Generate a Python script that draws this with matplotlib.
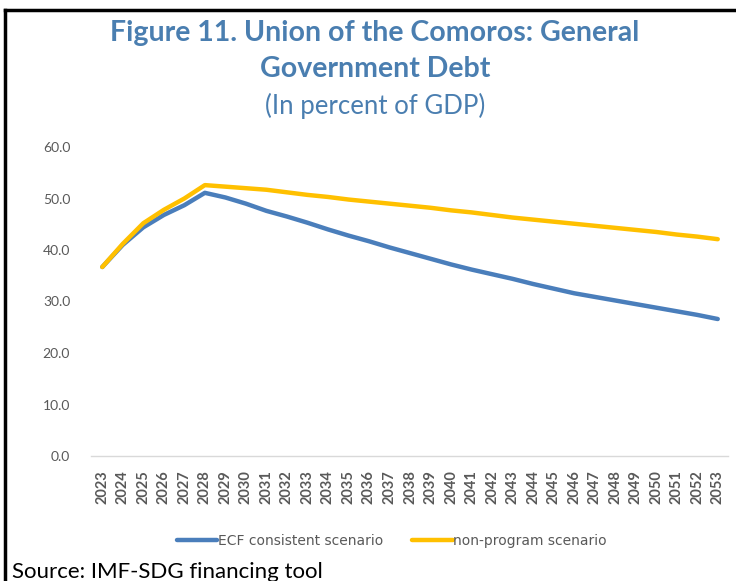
import matplotlib
matplotlib.use("Agg")
import matplotlib.pyplot as plt
from matplotlib.lines import Line2D

years = list(range(2023, 2054))
ecf = [36.7, 41.0, 44.4, 46.8, 48.7, 51.1, 50.2, 49.0, 47.6, 46.5,
       45.3, 44.0, 42.8, 41.7, 40.5, 39.4, 38.3, 37.2, 36.2, 35.3,
       34.4, 33.4, 32.5, 31.6, 30.9, 30.2, 29.5, 28.8, 28.1, 27.4, 26.6]
nonprog = [36.7, 41.2, 45.2, 47.8, 50.0, 52.6, 52.3, 52.0, 51.7, 51.2,
           50.7, 50.3, 49.8, 49.4, 49.0, 48.6, 48.2, 47.7, 47.3, 46.8,
           46.3, 45.9, 45.5, 45.1, 44.7, 44.3, 43.9, 43.5, 43.0, 42.6, 42.1]
yticks = [0, 10, 20, 30, 40, 50, 60]
series_names = ["ECF consistent scenario", "non-program scenario"]

blue = "#4A7EBB"
gold = "#FFC000"
title_col = "#4A7EB0"
grey = "#595959"

W, H = 736, 581
fig = plt.figure(figsize=(W / 100, H / 100), dpi=100)

# frame lines (top and left) like the cropped report box
fig.add_artist(Line2D([5 / W, 1], [1 - 10 / H, 1 - 10 / H], color="black", lw=2.5))
fig.add_artist(Line2D([5 / W, 5 / W], [0, 1 - 10 / H], color="black", lw=2.5))

fig.text(375 / W, 1 - 33 / H, "Figure 11. Union of the Comoros: General",
         ha="center", va="center", fontsize=20.5, fontweight="bold",
         family="Lato", color=title_col)
fig.text(375 / W, 1 - 69 / H, "Government Debt",
         ha="center", va="center", fontsize=20.5, fontweight="bold",
         family="Lato", color=title_col)
fig.text(375 / W, 1 - 106 / H, "(In percent of GDP)",
         ha="center", va="center", fontsize=18.5, family="Lato", color=title_col)

ax = fig.add_axes([91 / W, (H - 456) / H, 637 / W, 309 / H])
x = list(range(len(years)))
ax.plot(x, ecf, color=blue, lw=3.2, solid_capstyle="round", label=series_names[0])
ax.plot(x, nonprog, color=gold, lw=3.2, solid_capstyle="round", label=series_names[1])

ax.set_xlim(-0.55, len(years) - 0.5)
ax.set_ylim(0, 60)
ax.set_yticks(yticks)
ax.set_yticklabels([f"{v:.1f}" for v in yticks], family="Lato", fontsize=10, color=grey)
ax.set_xticks(x)
ax.set_xticklabels([str(y) for y in years], rotation=90, family="Lato",
                   fontsize=10.5, fontweight="bold", color=grey)
ax.tick_params(axis="both", length=0)
ax.tick_params(axis="y", pad=15)
ax.tick_params(axis="x", pad=10)
for s in ["top", "right", "left"]:
    ax.spines[s].set_visible(False)
ax.spines["bottom"].set_color("#D9D9D9")
ax.spines["bottom"].set_linewidth(1)

leg = fig.legend(loc="center", bbox_to_anchor=(392 / W, 1 - 541 / H), ncol=2,
                 frameon=False, handlelength=2.9, columnspacing=2.1, handletextpad=0.05,
                 borderpad=0, prop={"family": "Liberation Sans Narrow", "size": 10})
for t in leg.get_texts():
    t.set_color(grey)

fig.text(12 / W, 1 - 572 / H, "Source: IMF-SDG financing tool", ha="left", va="center",
         fontsize=16, family="Lato", color="black")

fig.savefig("out.png", dpi=100)
